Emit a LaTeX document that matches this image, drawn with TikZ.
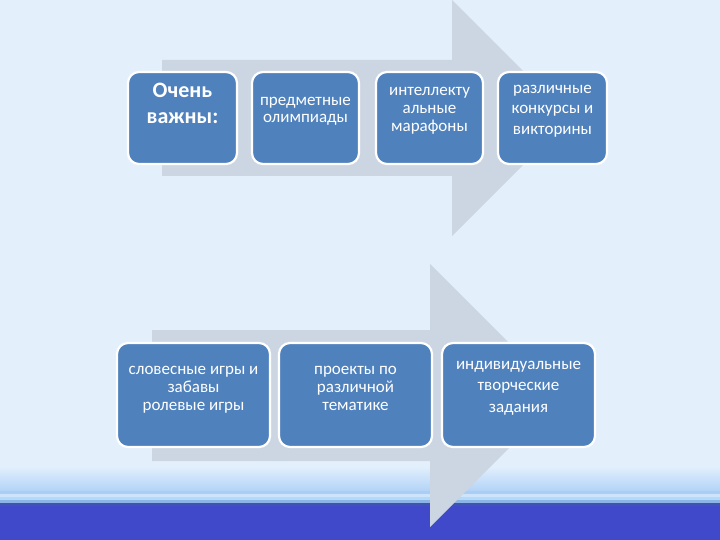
\documentclass[tikz,border=0pt]{standalone}
\usepackage{fontspec}
\setmainfont{Carlito}
\usepackage{tikz}
\usetikzlibrary{calc}

\definecolor{bgblue}{HTML}{E3F0FC}
\definecolor{bandblue}{HTML}{4149CB}
\definecolor{bandedge}{RGB}{62,84,176}
\definecolor{fadeblue}{RGB}{178,211,247}
\definecolor{stripeA}{RGB}{170,205,245}
\definecolor{stripeB}{RGB}{205,228,250}
\definecolor{stripeC}{RGB}{176,218,248}
\definecolor{stripeD}{RGB}{140,180,230}
\definecolor{arrowgrey}{HTML}{CCD6E3}
\definecolor{cellblue}{HTML}{4F81BD}

\tikzset{
  cell/.style={draw=white,line width=2.2pt,fill=cellblue,rounded corners=11pt,
    inner sep=0pt},
  celltext/.style={text=white,align=center,font=\fontsize{17}{18.3}\selectfont,
    inner sep=0pt,anchor=north},
}

\begin{document}
\begin{tikzpicture}[x=1pt,y=-1pt]
    \useasboundingbox (0,0) rectangle (720,540);
    % background and bottom band
    \fill[bgblue] (0,0) rectangle (720,540);
    \shade[top color=bgblue,bottom color=fadeblue] (0,466) rectangle (720,491);
    \fill[stripeA] (0,491) rectangle (720,494);
    \fill[stripeB] (0,494) rectangle (720,497);
    \fill[stripeC] (0,497) rectangle (720,500);
    \fill[stripeD] (0,500) rectangle (720,503);
    \fill[bandblue] (0,503) rectangle (720,540);
    \fill[bandedge] (0,503) rectangle (720,506);
    % big arrows
    \fill[arrowgrey] (162,60) -- (452,60) -- (452,0) -- (570,118) -- (452,236)
      -- (452,176) -- (162,176) -- cycle;
    \fill[arrowgrey] (152,330) -- (430,330) -- (430,264) -- (561.5,395.5) -- (430,527)
      -- (430,461) -- (152,461) -- cycle;
    % top row
    \node (imp) [cell,minimum width=109pt,minimum height=92pt] at (182.5,118) {};
    \node (olymp) [cell,minimum width=107pt,minimum height=92pt] at (305.5,118) {};
    \node (marath) [cell,minimum width=107pt,minimum height=92pt] at (429.5,118) {};
    \node (contest) [cell,minimum width=109pt,minimum height=92pt] at (552.5,118) {};
    \node (implabel) [celltext,font=\fontsize{22}{26}\selectfont\bfseries] at ($(imp.north)+(0,12)$) {Очень\\важны:};
    \node (olymplabel) [celltext,font=\fontsize{17}{17}\selectfont] at ($(olymp.north)+(0,26)$) {предметные\\олимпиады};
    \node (marathlabel) [celltext] at ($(marath.north)+(0,16)$) {интеллекту\\альные\\марафоны};
    \node (contestlabel) [celltext,font=\fontsize{17}{20.5}\selectfont] at ($(contest.north)+(0,14)$) {различные\\конкурсы и\\викторины};
    % bottom row
    \node (games) [cell,minimum width=153pt,minimum height=104pt] at (193.5,395) {};
    \node (proj) [cell,minimum width=153pt,minimum height=104pt] at (355.5,395) {};
    \node (tasks) [cell,minimum width=153pt,minimum height=104pt] at (518.5,395) {};
    \node (gameslabel) [celltext] at ($(games.north)+(0,24)$) {словесные игры и\\забавы\\ролевые игры};
    \node (projlabel) [celltext] at ($(proj.north)+(0,24)$) {проекты по\\различной\\тематике};
    \node (taskslabel) [celltext,font=\fontsize{17}{21.5}\selectfont] at ($(tasks.north)+(0,19)$) {индивидуальные\\творческие\\задания};
\end{tikzpicture}
\end{document}
